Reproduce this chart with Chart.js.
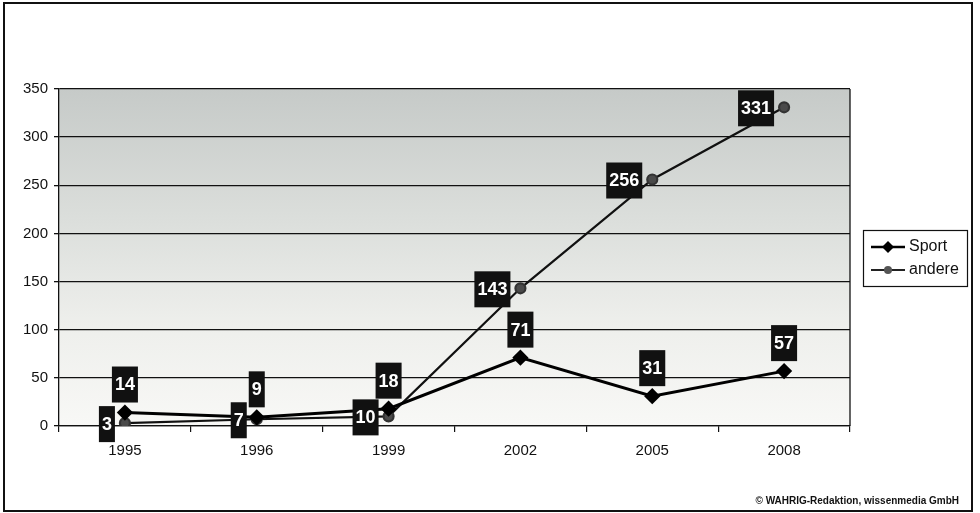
<!DOCTYPE html>
<html>
<head>
<meta charset="utf-8">
<script src="https://cdn.jsdelivr.net/npm/chart.js@4.4.0/dist/chart.umd.min.js"></script>
<style>
  html, body { margin: 0; padding: 0; background: #fff; }
  #wrap { position: relative; width: 980px; height: 513px; overflow: hidden; }
  #frame { position: absolute; left: 3px; top: 2px; width: 970px; height: 510px; border: 2px solid #111; box-sizing: border-box; }
  #chart { position: absolute; left: 0; top: 0; }
  #credit { position: absolute; right: 21px; top: 495px; font: bold 10px "Liberation Sans", Arial, sans-serif; color: #111; }
</style>
</head>
<body>
<div id="wrap">
  <div id="frame"></div>
  <canvas id="chart" width="980" height="513"></canvas>
  <div id="credit">© WAHRIG-Redaktion, wissenmedia GmbH</div>
</div>
<script>
// values
const years = ['1995', '1996', '1999', '2002', '2005', '2008'];
const sport = [14, 9, 18, 71, 31, 57];
const andere = [3, 7, 10, 143, 256, 331];
const yTicks = [0, 50, 100, 150, 200, 250, 300, 350];

const FONT = '"Liberation Sans", Arial, sans-serif';

// grey shaded plot area + right border
const plotBg = {
  id: 'plotBg',
  beforeDraw(chart) {
    const { ctx, chartArea: a } = chart;
    const g = ctx.createLinearGradient(0, a.top, 0, a.bottom);
    g.addColorStop(0, '#c6cac8');
    g.addColorStop(0.4, '#dcdfdc');
    g.addColorStop(0.7, '#eeefec');
    g.addColorStop(1, '#f8f8f6');
    ctx.save();
    ctx.fillStyle = g;
    ctx.fillRect(a.left, a.top, a.right - a.left, a.bottom - a.top);
    ctx.restore();
  },
  beforeDatasetsDraw(chart) {
    const { ctx, chartArea: a } = chart;
    ctx.save();
    ctx.strokeStyle = '#111';
    ctx.lineWidth = 1.3;
    ctx.beginPath();
    ctx.moveTo(a.right, a.top);
    ctx.lineTo(a.right, a.bottom);
    ctx.stroke();
    ctx.restore();
  }
};

// black boxes with white numbers
const valueBoxes = {
  id: 'valueBoxes',
  afterDatasetsDraw(chart) {
    const ctx = chart.ctx;
    ctx.save();
    ctx.font = 'bold 18px ' + FONT;
    ctx.textBaseline = 'middle';
    ctx.textAlign = 'center';
    const h = 36;
    chart.data.datasets.forEach((ds, di) => {
      const meta = chart.getDatasetMeta(di);
      meta.data.forEach((pt, i) => {
        const txt = String(ds.data[i]);
        const w = ctx.measureText(txt).width + 6;
        let x, y;
        if (di === 0) {            // Sport: above the point
          x = pt.x - w / 2;
          y = pt.y - 10 - h;
        } else {                   // andere: left of the point
          x = pt.x - 10 - w;
          y = pt.y - h / 2 + 1;
        }
        ctx.fillStyle = '#111';
        ctx.fillRect(x, y, w, h);
        ctx.fillStyle = '#fff';
        ctx.fillText(txt, x + w / 2, y + h / 2 + 1);
      });
    });
    ctx.restore();
  }
};

// legend box on the right
const sideLegend = {
  id: 'sideLegend',
  afterDraw(chart) {
    const ctx = chart.ctx;
    ctx.save();
    ctx.fillStyle = '#fff';
    ctx.fillRect(863, 230, 105, 57);
    ctx.strokeStyle = '#111';
    ctx.lineWidth = 1.2;
    ctx.strokeRect(863.5, 230.5, 104, 56);

    // Sport
    ctx.strokeStyle = '#000';
    ctx.lineWidth = 2.5;
    ctx.beginPath(); ctx.moveTo(871, 247); ctx.lineTo(905, 247); ctx.stroke();
    ctx.fillStyle = '#000';
    ctx.beginPath();
    ctx.moveTo(888, 241); ctx.lineTo(894, 247); ctx.lineTo(888, 253); ctx.lineTo(882, 247);
    ctx.closePath(); ctx.fill();

    // andere
    ctx.strokeStyle = '#222';
    ctx.lineWidth = 1.8;
    ctx.beginPath(); ctx.moveTo(871, 270); ctx.lineTo(905, 270); ctx.stroke();
    ctx.fillStyle = '#555';
    ctx.beginPath(); ctx.arc(888, 270, 4, 0, Math.PI * 2); ctx.fill();

    ctx.fillStyle = '#111';
    ctx.font = '16px ' + FONT;
    ctx.textBaseline = 'middle';
    ctx.textAlign = 'left';
    ctx.fillText('Sport', 909, 247);
    ctx.fillText('andere', 909, 270);
    ctx.restore();
  }
};

new Chart(document.getElementById('chart'), {
  type: 'line',
  data: {
    labels: years,
    datasets: [
      {
        label: 'Sport',
        data: sport,
        borderColor: '#000',
        borderWidth: 3,
        pointStyle: 'rectRot',
        pointRadius: 6,
        pointBackgroundColor: '#000',
        pointBorderColor: '#000',
        tension: 0
      },
      {
        label: 'andere',
        data: andere,
        borderColor: '#111',
        borderWidth: 2.2,
        pointStyle: 'circle',
        pointRadius: 5,
        pointBackgroundColor: '#4a4a4a',
        pointBorderColor: '#333',
        tension: 0
      }
    ]
  },
  options: {
    responsive: false,
    animation: false,
    layout: { padding: { left: 0, top: 89, right: 130, bottom: 0 } },
    plugins: {
      legend: { display: false },
      tooltip: { enabled: false }
    },
    scales: {
      x: {
        offset: true,
        afterFit(s) { s.height = 87; },
        grid: { offset: true, drawOnChartArea: false, drawTicks: true, tickLength: 6, color: '#111', lineWidth: 1.2 },
        border: { display: true, color: '#111', width: 1.3 },
        ticks: { color: '#111', padding: 10, font: { family: FONT, size: 15 } }
      },
      y: {
        min: 0,
        max: 350,
        afterFit(s) { s.width = 59; },
        afterBuildTicks(s) { s.ticks = yTicks.map(v => ({ value: v })); },
        grid: { color: '#111', lineWidth: 1.3, drawTicks: true, tickLength: 5 },
        border: { display: true, color: '#111', width: 1.3 },
        ticks: { color: '#111', padding: 6, font: { family: FONT, size: 15 } }
      }
    }
  },
  plugins: [plotBg, valueBoxes, sideLegend]
});
</script>
</body>
</html>
